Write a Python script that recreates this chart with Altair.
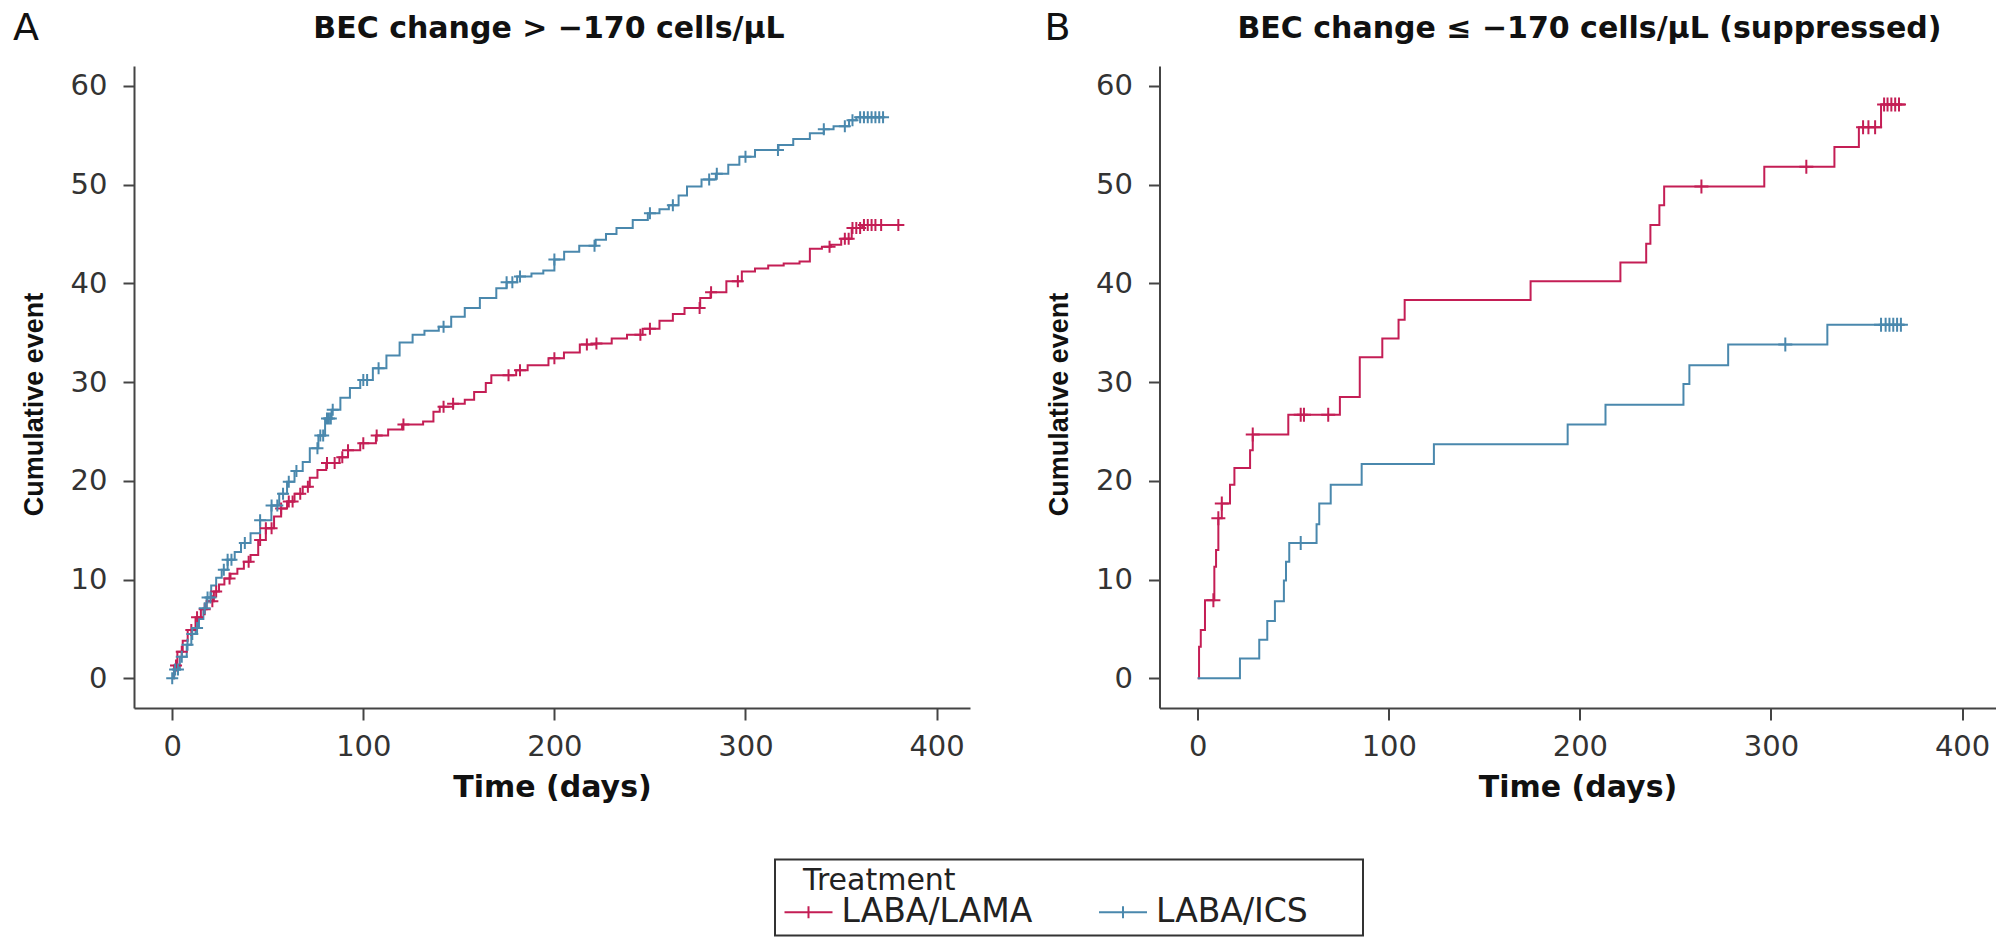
import altair as alt
import pandas as pd
import numpy as np

RED = "#C41E55"
BLUE = "#4A88AD"
TREATMENTS = ["LABA/LAMA", "LABA/ICS"]

# ---------------- Panel A: BEC change > -170 cells/uL ----------------
a_ics_day = [0, 1, 4, 7.6, 10, 12.2, 14, 16.3, 18, 20.4, 23, 25.9, 29, 32.7, 36, 41, 46, 51.9,
             56, 60.1, 64, 68.3, 72, 76.5, 80, 83.4, 88, 93, 98.4, 105, 112.1, 119, 125.8, 132,
             139.5, 146, 153.1, 161, 169.6, 175, 180.5, 188, 194.2, 200, 205.1, 213, 221.6, 227,
             232.5, 241, 248.9, 255, 259.9, 265, 269.4, 277, 284.5, 291, 296.8, 305, 317.3, 325,
             333.7, 341, 346.1, 354.2, 358, 372]
a_ics_val = [0, 0.9, 2.2, 3.4, 4.5, 5.1, 6.0, 7.1, 8.2, 9.4, 10.2, 11.0, 12.0, 12.8, 13.7, 14.7,
             16.0, 17.5, 18.7, 19.9, 21.0, 21.9, 23.3, 24.6, 26.3, 27.2, 28.4, 29.4, 30.2, 31.4,
             32.7, 34.0, 34.8, 35.2, 35.6, 36.6, 37.5, 38.5, 39.5, 40.1, 40.7, 41.0, 41.3, 42.4,
             43.2, 43.8, 44.4, 45.0, 45.6, 46.4, 47.1, 47.5, 47.9, 48.9, 49.8, 50.5, 51.1, 52.0,
             52.8, 53.5, 54.0, 54.6, 55.2, 55.6, 55.9, 56.5, 56.8, 56.8]
a_lama_day = [0, 1, 2.7, 5.5, 8.1, 12.2, 15, 18, 21.8, 24.5, 27.3, 30.5, 34.1, 37.5, 41, 45, 49,
              53.3, 57, 60.1, 64, 68.3, 72, 76, 80.6, 87.5, 92, 98.4, 106.6, 113, 120.3, 131.3,
              136.7, 140, 147, 153.1, 158, 164.1, 167, 175, 180, 186, 196.9, 205, 213.3, 221.6,
              230, 238, 246.2, 255, 262, 268.1, 276.3, 281.7, 290, 298.1, 305, 311.9, 320, 328.3,
              333.7, 340, 344.7, 350.1, 355.6, 361.1, 380.2]
a_lama_val = [0, 1.3, 2.7, 3.8, 4.9, 6.2, 7.0, 7.8, 8.8, 9.5, 10.1, 10.6, 11.1, 11.8, 12.5, 14.0,
              15.2, 16.4, 17.2, 17.9, 18.7, 19.4, 20.3, 21.1, 21.8, 22.4, 23.1, 23.8, 24.6, 25.2,
              25.7, 26.0, 27.0, 27.5, 27.8, 28.2, 29.0, 29.9, 30.7, 30.7, 31.2, 31.7, 32.4, 33.0,
              33.8, 33.9, 34.4, 34.8, 35.4, 36.2, 36.9, 37.5, 38.5, 39.1, 40.2, 41.2, 41.5, 41.8,
              42.0, 42.2, 43.5, 43.7, 43.9, 44.5, 45.6, 45.9, 45.9]
a_ics_cens = [0, 1.5, 3, 5, 8, 10.5, 13, 17, 18.5, 20, 27, 29, 31, 38, 46, 52, 55, 58, 61, 65, 76,
              77.5, 79, 81, 82, 83, 84, 100, 102, 108, 142, 175, 178, 182, 200, 221, 250, 262, 281,
              285, 300, 317, 341, 352, 356, 360, 362, 364, 366, 368, 370, 372]
a_lama_cens = [2, 5, 10, 13, 17, 21, 23, 30, 40, 46, 49, 52, 57, 61, 63, 67, 71, 81, 85, 89, 92,
               100, 107, 121, 142, 147, 176, 182, 200, 217, 222, 245, 250, 276, 282, 296, 344, 352,
               354, 356, 358, 360, 362, 364, 366, 368, 371, 380]

# ---------------- Panel B: BEC change <= -170 cells/uL (suppressed) ----------------
b_lama_day = [0, 0.7, 1.6, 3.8, 8.7, 9.6, 10.8, 12.6, 16.9, 19.2, 27.4, 28.8, 47.4, 74.4, 84.8,
              96.6, 105.1, 108.3, 174.2, 221.2, 234.7, 236.9, 241.6, 244.1, 296.5, 333.2, 346.0,
              357.6, 370.1]
b_lama_val = [0, 3.2, 4.9, 7.9, 11.3, 13.0, 16.2, 17.7, 19.6, 21.3, 23.1, 24.7, 26.7, 28.5, 32.5,
              34.4, 36.3, 38.3, 40.2, 42.1, 44.0, 45.9, 47.9, 49.8, 51.8, 53.8, 55.8, 58.1, 58.1]
b_ics_day = [0, 22.1, 32.2, 36.4, 40.4, 45.1, 46.2, 47.9, 62.2, 63.6, 69.6, 85.8, 123.6, 193.6,
             213.4, 254.2, 257.3, 277.6, 329.5, 370.1]
b_ics_val = [0, 2.0, 3.9, 5.8, 7.8, 9.9, 11.8, 13.7, 15.6, 17.7, 19.6, 21.7, 23.7, 25.7, 27.7,
             29.8, 31.7, 33.8, 35.8, 35.8]
b_lama_cens = [8.2, 10.8, 12.6, 28.8, 53.9, 55.6, 68.3, 263.6, 318.5, 348.2, 351, 354.5, 359.2,
               361, 363, 365, 367]
b_ics_cens = [53.9, 307.5, 357.6, 360, 362, 364, 366, 368]

PANEL_TITLES = ["BEC change > \u2212170 cells/\u03bcL",
                "BEC change \u2264 \u2212170 cells/\u03bcL (suppressed)"]
PANEL_LETTERS = ["A", "B"]
X_TICKS = [0, 100, 200, 300, 400]
Y_TICKS = [0, 10, 20, 30, 40, 50, 60]


def step_value(days, vals, t):
    d = np.asarray(days)
    v = np.asarray(vals)
    i = np.searchsorted(d, t, side="right") - 1
    return v[np.clip(i, 0, len(v) - 1)]


def lines_df(lama_d, lama_v, ics_d, ics_v):
    return pd.concat([
        pd.DataFrame({"day": lama_d, "value": lama_v, "treatment": TREATMENTS[0]}),
        pd.DataFrame({"day": ics_d, "value": ics_v, "treatment": TREATMENTS[1]}),
    ], ignore_index=True)


def cens_df(lama_d, lama_v, lama_c, ics_d, ics_v, ics_c):
    return pd.concat([
        pd.DataFrame({"day": lama_c, "value": step_value(lama_d, lama_v, lama_c),
                      "treatment": TREATMENTS[0]}),
        pd.DataFrame({"day": ics_c, "value": step_value(ics_d, ics_v, ics_c),
                      "treatment": TREATMENTS[1]}),
    ], ignore_index=True)


W, H = 836, 642
TICK_FONT = "DejaVu Sans"
BLANK = "\u2800"  # blank braille cell, used as non-trimmed spacer in the legend
legend = alt.Legend(
    title=BLANK + "Treatment", orient="none", legendX=641, legendY=793.5,
    direction="horizontal",
    titleFont=TICK_FONT, titleFontSize=30, titleFontWeight="normal", titleColor="#222",
    titlePadding=0,
    labelFont=TICK_FONT, labelFontSize=33, labelColor="#222", labelLimit=500,
    labelExpr="datum.label == 'LABA/ICS' ? datum.label + '" + BLANK * 2 + "' : datum.label",
    symbolType="M-1.625,0L4.375,0M1.375,-0.75L1.375,0.75", symbolSize=256,
    symbolStrokeWidth=2,
    strokeColor="#333", padding=6, labelOffset=27.5, columnPadding=61.5,
)
color = alt.Color("treatment:N", scale=alt.Scale(domain=TREATMENTS, range=[RED, BLUE]),
                  legend=legend)


def panel(ldf, cdf, title, letter, title_dx, letter_x, mark_size):
    x = alt.X("day:Q", scale=alt.Scale(domain=[-20, 417.5], nice=False, zero=False),
              axis=alt.Axis(values=X_TICKS, title="Time (days)", grid=False,
                            titleFont=TICK_FONT, titleFontSize=30, titleFontWeight="bold",
                            titleColor="#111", titleBaseline="alphabetic", titleY=88.6,
                            labelFont=TICK_FONT, labelFontSize=29, labelColor="#333",
                            labelBaseline="alphabetic", labelPadding=35, labelFlush=False,
                            tickSize=12, tickWidth=2, tickColor="#444",
                            domainColor="#444", domainWidth=2))
    y = alt.Y("value:Q", scale=alt.Scale(domain=[-3, 62], nice=False, zero=False),
              axis=alt.Axis(values=Y_TICKS, title="Cumulative event", grid=False,
                            titleFont="Liberation Sans", titleFontSize=27,
                            titleFontWeight="bold", titleColor="#111",
                            titleBaseline="alphabetic", titleX=-92, titleY=338, titleAngle=270,
                            labelFont=TICK_FONT, labelFontSize=29, labelColor="#333",
                            labelPadding=16, labelFlush=False,
                            tickSize=11, tickWidth=2, tickColor="#444",
                            domainColor="#444", domainWidth=2))
    line = alt.Chart(ldf).mark_line(interpolate="step-after", strokeWidth=2).encode(
        x=x, y=y, color=color, detail="treatment:N")
    pts = alt.Chart(cdf).mark_point(shape="M-1,0L1,0M0,-1L0,1", filled=False, opacity=1,
                                    strokeWidth=2, size=mark_size).encode(
        x=x, y=y, color=color)
    ttl = alt.Chart(pd.DataFrame({"t": [title]})).mark_text(
        font=TICK_FONT, fontSize=30, fontWeight="bold", color="#111", align="center",
        baseline="alphabetic").encode(text="t:N", x=alt.value(W / 2 + title_dx),
                                      y=alt.value(-27.7))
    let = alt.Chart(pd.DataFrame({"t": [letter]})).mark_text(
        font=TICK_FONT, fontSize=38, fontWeight="normal", color="#111", align="left",
        baseline="alphabetic").encode(text="t:N", x=alt.value(letter_x), y=alt.value(-26))
    return alt.layer(line, pts, ttl, let).properties(width=W, height=H)


chart_a = panel(lines_df(a_lama_day, a_lama_val, a_ics_day, a_ics_val),
                cens_df(a_lama_day, a_lama_val, a_lama_cens, a_ics_day, a_ics_val, a_ics_cens),
                PANEL_TITLES[0], PANEL_LETTERS[0], -3, -121, 144)
chart_b = panel(lines_df(b_lama_day, b_lama_val, b_ics_day, b_ics_val),
                cens_df(b_lama_day, b_lama_val, b_lama_cens, b_ics_day, b_ics_val, b_ics_cens),
                PANEL_TITLES[1], PANEL_LETTERS[1], 12, -115, 196)

chart = alt.hconcat(chart_a, chart_b, spacing=189.5, bounds="flush").properties(
    padding={"left": 13, "top": 10, "right": 0, "bottom": 0},
    background="white",
).configure_view(stroke=None).configure_legend(strokeWidth=2)

chart.save("out.html", embed_options={"renderer": "svg", "actions": False})
